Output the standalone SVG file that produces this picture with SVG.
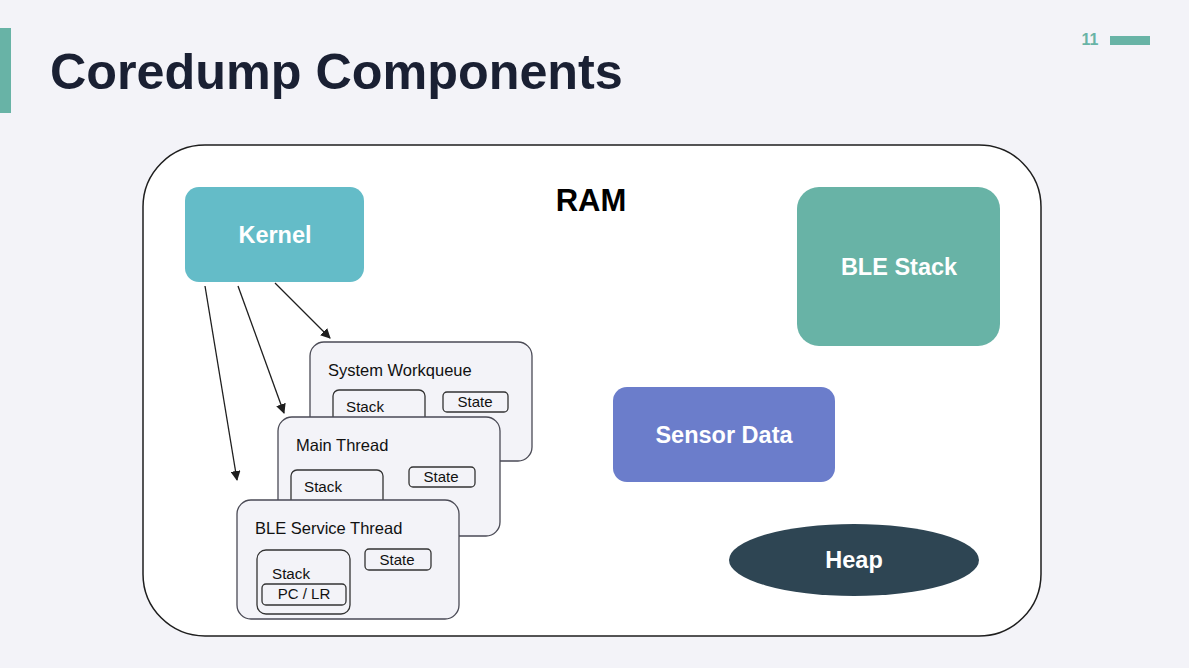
<svg xmlns="http://www.w3.org/2000/svg" width="1189" height="668" viewBox="0 0 1189 668">
<defs>
<marker id="ah" markerWidth="10" markerHeight="10" refX="9" refY="5" orient="auto" markerUnits="userSpaceOnUse">
<path d="M0,0 L10,5 L0,10 z" fill="#1e1e1e"/>
</marker>
<style>
.wb{font-family:"Liberation Sans",Arial,sans-serif;font-weight:bold;fill:#ffffff;text-anchor:middle;font-size:23.5px}
.card{fill:#f3f3f8;stroke:#4a4a55;stroke-width:1.3}
.box{fill:#f3f3f8;stroke:#333;stroke-width:1.3}
.t{font-family:"Liberation Sans",Arial,sans-serif;fill:#111;font-size:16.5px}
.s{font-family:"Liberation Sans",Arial,sans-serif;fill:#111;font-size:15.2px}
.tm{font-family:"Liberation Sans",Arial,sans-serif;fill:#111;font-size:15px;text-anchor:middle}
.conn line{stroke:#1e1e1e;stroke-width:1.3;marker-end:url(#ah)}
</style>
</defs>
<rect width="1189" height="668" fill="#f3f3f8"/>
<rect x="0" y="28" width="11" height="85" fill="#68b3a6"/>
<text x="50" y="89" font-family="'Liberation Sans',Arial,sans-serif" font-weight="bold" font-size="50.3" fill="#1a2033">Coredump Components</text>
<text x="1090" y="45" font-family="'Liberation Sans',Arial,sans-serif" font-weight="bold" font-size="16" fill="#68b3a6" text-anchor="middle">11</text>
<rect x="1110" y="36" width="40" height="9" fill="#68b3a6"/>

<g id="ram">
<rect x="143" y="145" width="898" height="491" rx="62" fill="#ffffff" stroke="#1e1e1e" stroke-width="1.5"/>
<text x="591" y="211" font-family="'Liberation Sans',Arial,sans-serif" font-weight="bold" font-size="31" fill="#000" text-anchor="middle">RAM</text>
</g>

<g id="kernel">
<rect x="185" y="187" width="179" height="95" rx="14" fill="#64bcc8"/>
<text class="wb" x="275" y="243">Kernel</text>
</g>
<g id="ble-stack">
<rect x="797" y="187" width="203" height="159" rx="22" fill="#68b3a6"/>
<text class="wb" x="899" y="275">BLE Stack</text>
</g>
<g id="sensor-data">
<rect x="613" y="387" width="222" height="95" rx="14" fill="#6b7dcb"/>
<text class="wb" x="724" y="443">Sensor Data</text>
</g>
<g id="heap">
<ellipse cx="854" cy="560" rx="125" ry="36" fill="#2e4553"/>
<text class="wb" x="854" y="568">Heap</text>
</g>

<g id="system-workqueue">
<rect class="card" x="310" y="342" width="222" height="119" rx="14"/>
<text class="t" x="328" y="376">System Workqueue</text>
<rect class="box" x="333" y="390" width="92" height="40" rx="6"/>
<text class="s" x="346" y="412">Stack</text>
<rect class="box" x="443" y="392" width="65" height="20" rx="4"/>
<text class="tm" x="475" y="407">State</text>
</g>
<g id="main-thread">
<rect class="card" x="278" y="417" width="222" height="119" rx="14"/>
<text class="t" x="296" y="451">Main Thread</text>
<rect class="box" x="291" y="470" width="92" height="40" rx="6"/>
<text class="s" x="304" y="492">Stack</text>
<rect class="box" x="409" y="467" width="66" height="20" rx="4"/>
<text class="tm" x="441" y="482">State</text>
</g>
<g id="ble-service-thread">
<rect class="card" x="237" y="500" width="222" height="119" rx="14"/>
<text class="t" x="255" y="534">BLE Service Thread</text>
<rect class="box" x="257" y="550" width="93" height="64" rx="9"/>
<text class="s" x="272" y="579">Stack</text>
<rect class="box" x="262" y="584" width="84" height="21" rx="4"/>
<text class="tm" x="304" y="599" font-size="12.5">PC / LR</text>
<rect class="box" x="365" y="549" width="66" height="21" rx="4"/>
<text class="tm" x="397" y="565">State</text>
</g>

<g id="connectors" class="conn">
<line x1="205" y1="286" x2="237" y2="480"/>
<line x1="238" y1="286" x2="284" y2="413"/>
<line x1="275" y1="283" x2="330" y2="338"/>
</g>
</svg>
